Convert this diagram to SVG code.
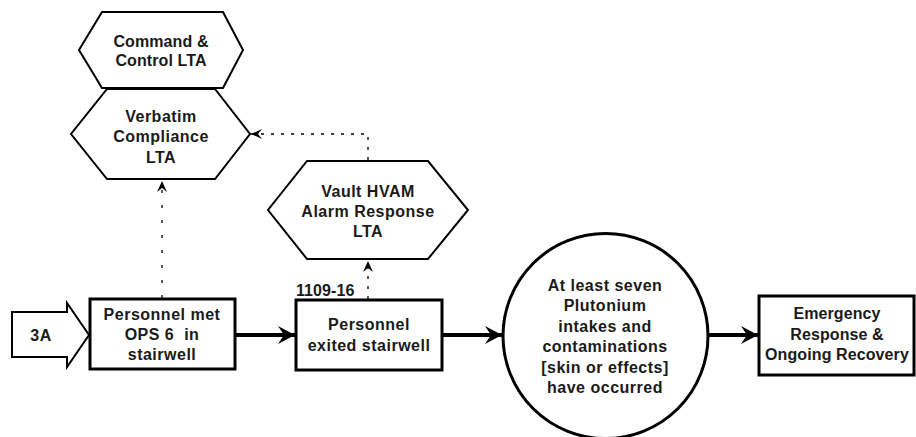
<svg xmlns="http://www.w3.org/2000/svg" width="916" height="437" viewBox="0 0 916 437">
<defs>
<style>
.shape{fill:#fff;stroke:#000;stroke-width:2}
.box{fill:#fff;stroke:#000;stroke-width:3}
text{font-family:"Liberation Sans",Arial,sans-serif;font-weight:bold;font-size:16px;fill:#1a1a1a;text-anchor:middle;letter-spacing:0.5px}
.tight{letter-spacing:0.1px}
.thick{stroke:#000;stroke-width:4;fill:none}
.dot{stroke:#000;stroke-width:1.3;fill:none}
</style>
<marker id="ah" viewBox="-18 -10 20 20" refX="0" refY="0" markerWidth="20" markerHeight="20" markerUnits="userSpaceOnUse" orient="auto">
<path d="M0,0 L-17,-9 L-11,0 L-17,9 Z" fill="#000"/>
</marker>
<marker id="ahs" viewBox="-12 -7 14 14" refX="0" refY="0" markerWidth="14" markerHeight="14" markerUnits="userSpaceOnUse" orient="auto">
<path d="M0,0 L-11,-5 L-7,0 L-11,5 Z" fill="#000"/>
</marker>
</defs>

<g id="connectors">
<line class="thick" x1="235" y1="335" x2="295" y2="335" marker-end="url(#ah)"/>
<line class="thick" x1="442" y1="335" x2="502" y2="335" marker-end="url(#ah)"/>
<line class="thick" x1="708" y1="335" x2="758" y2="335" marker-end="url(#ah)"/>
<line class="dot" x1="162" y1="298" x2="162" y2="181" stroke-dasharray="3 12" marker-end="url(#ahs)"/>
<line class="dot" x1="368" y1="299" x2="368" y2="261" stroke-dasharray="3 7" marker-end="url(#ahs)"/>
<polyline class="dot" points="368,160 368,134 251,134" stroke-dasharray="3 7" marker-end="url(#ahs)"/>
</g>

<g id="n-3a">
<polygon class="shape" points="12,312 67,312 67,303 89,335 67,367 67,357 12,357"/>
<text x="41" y="341">3A</text>
</g>

<g id="n-command">
<polygon class="shape" points="102,12 223,12 243,50 223,88 102,88 79,50"/>
<text x="161" y="47" class="tight">Command &amp;</text>
<text x="161" y="66" class="tight">Control LTA</text>
</g>

<g id="n-verbatim">
<polygon class="shape" points="107,89 215,89 250,134 215,179 107,179 71,134"/>
<text x="161" y="122">Verbatim</text>
<text x="161" y="142">Compliance</text>
<text x="161" y="163">LTA</text>
</g>

<g id="n-vault">
<polygon class="shape" points="307,161 428,161 468,210 428,259 307,259 268,210"/>
<text x="368" y="197">Vault HVAM</text>
<text x="368" y="217">Alarm Response</text>
<text x="368" y="237">LTA</text>
</g>

<g id="n-met">
<rect class="box" x="90" y="299" width="145" height="70"/>
<text x="162" y="320">Personnel met</text>
<text x="162" y="340" xml:space="preserve">OPS 6  in</text>
<text x="162" y="360">stairwell</text>
</g>

<g id="n-exited">
<text x="296" y="296" class="tight" style="text-anchor:start">1109-16</text>
<rect class="box" x="296" y="300" width="146" height="70"/>
<text x="369" y="330">Personnel</text>
<text x="369" y="351">exited stairwell</text>
</g>

<g id="n-pu">
<circle class="box" cx="605.5" cy="336" r="102.5"/>
<text x="605" y="291">At least seven</text>
<text x="605" y="311">Plutonium</text>
<text x="605" y="332">intakes and</text>
<text x="605" y="352">contaminations</text>
<text x="605" y="373">[skin or effects]</text>
<text x="605" y="393">have occurred</text>
</g>

<g id="n-emergency">
<rect class="box" x="759" y="296" width="155" height="79"/>
<text x="837" y="319" class="tight">Emergency</text>
<text x="837" y="340" class="tight">Response &amp;</text>
<text x="837" y="360" class="tight">Ongoing Recovery</text>
</g>
</svg>
